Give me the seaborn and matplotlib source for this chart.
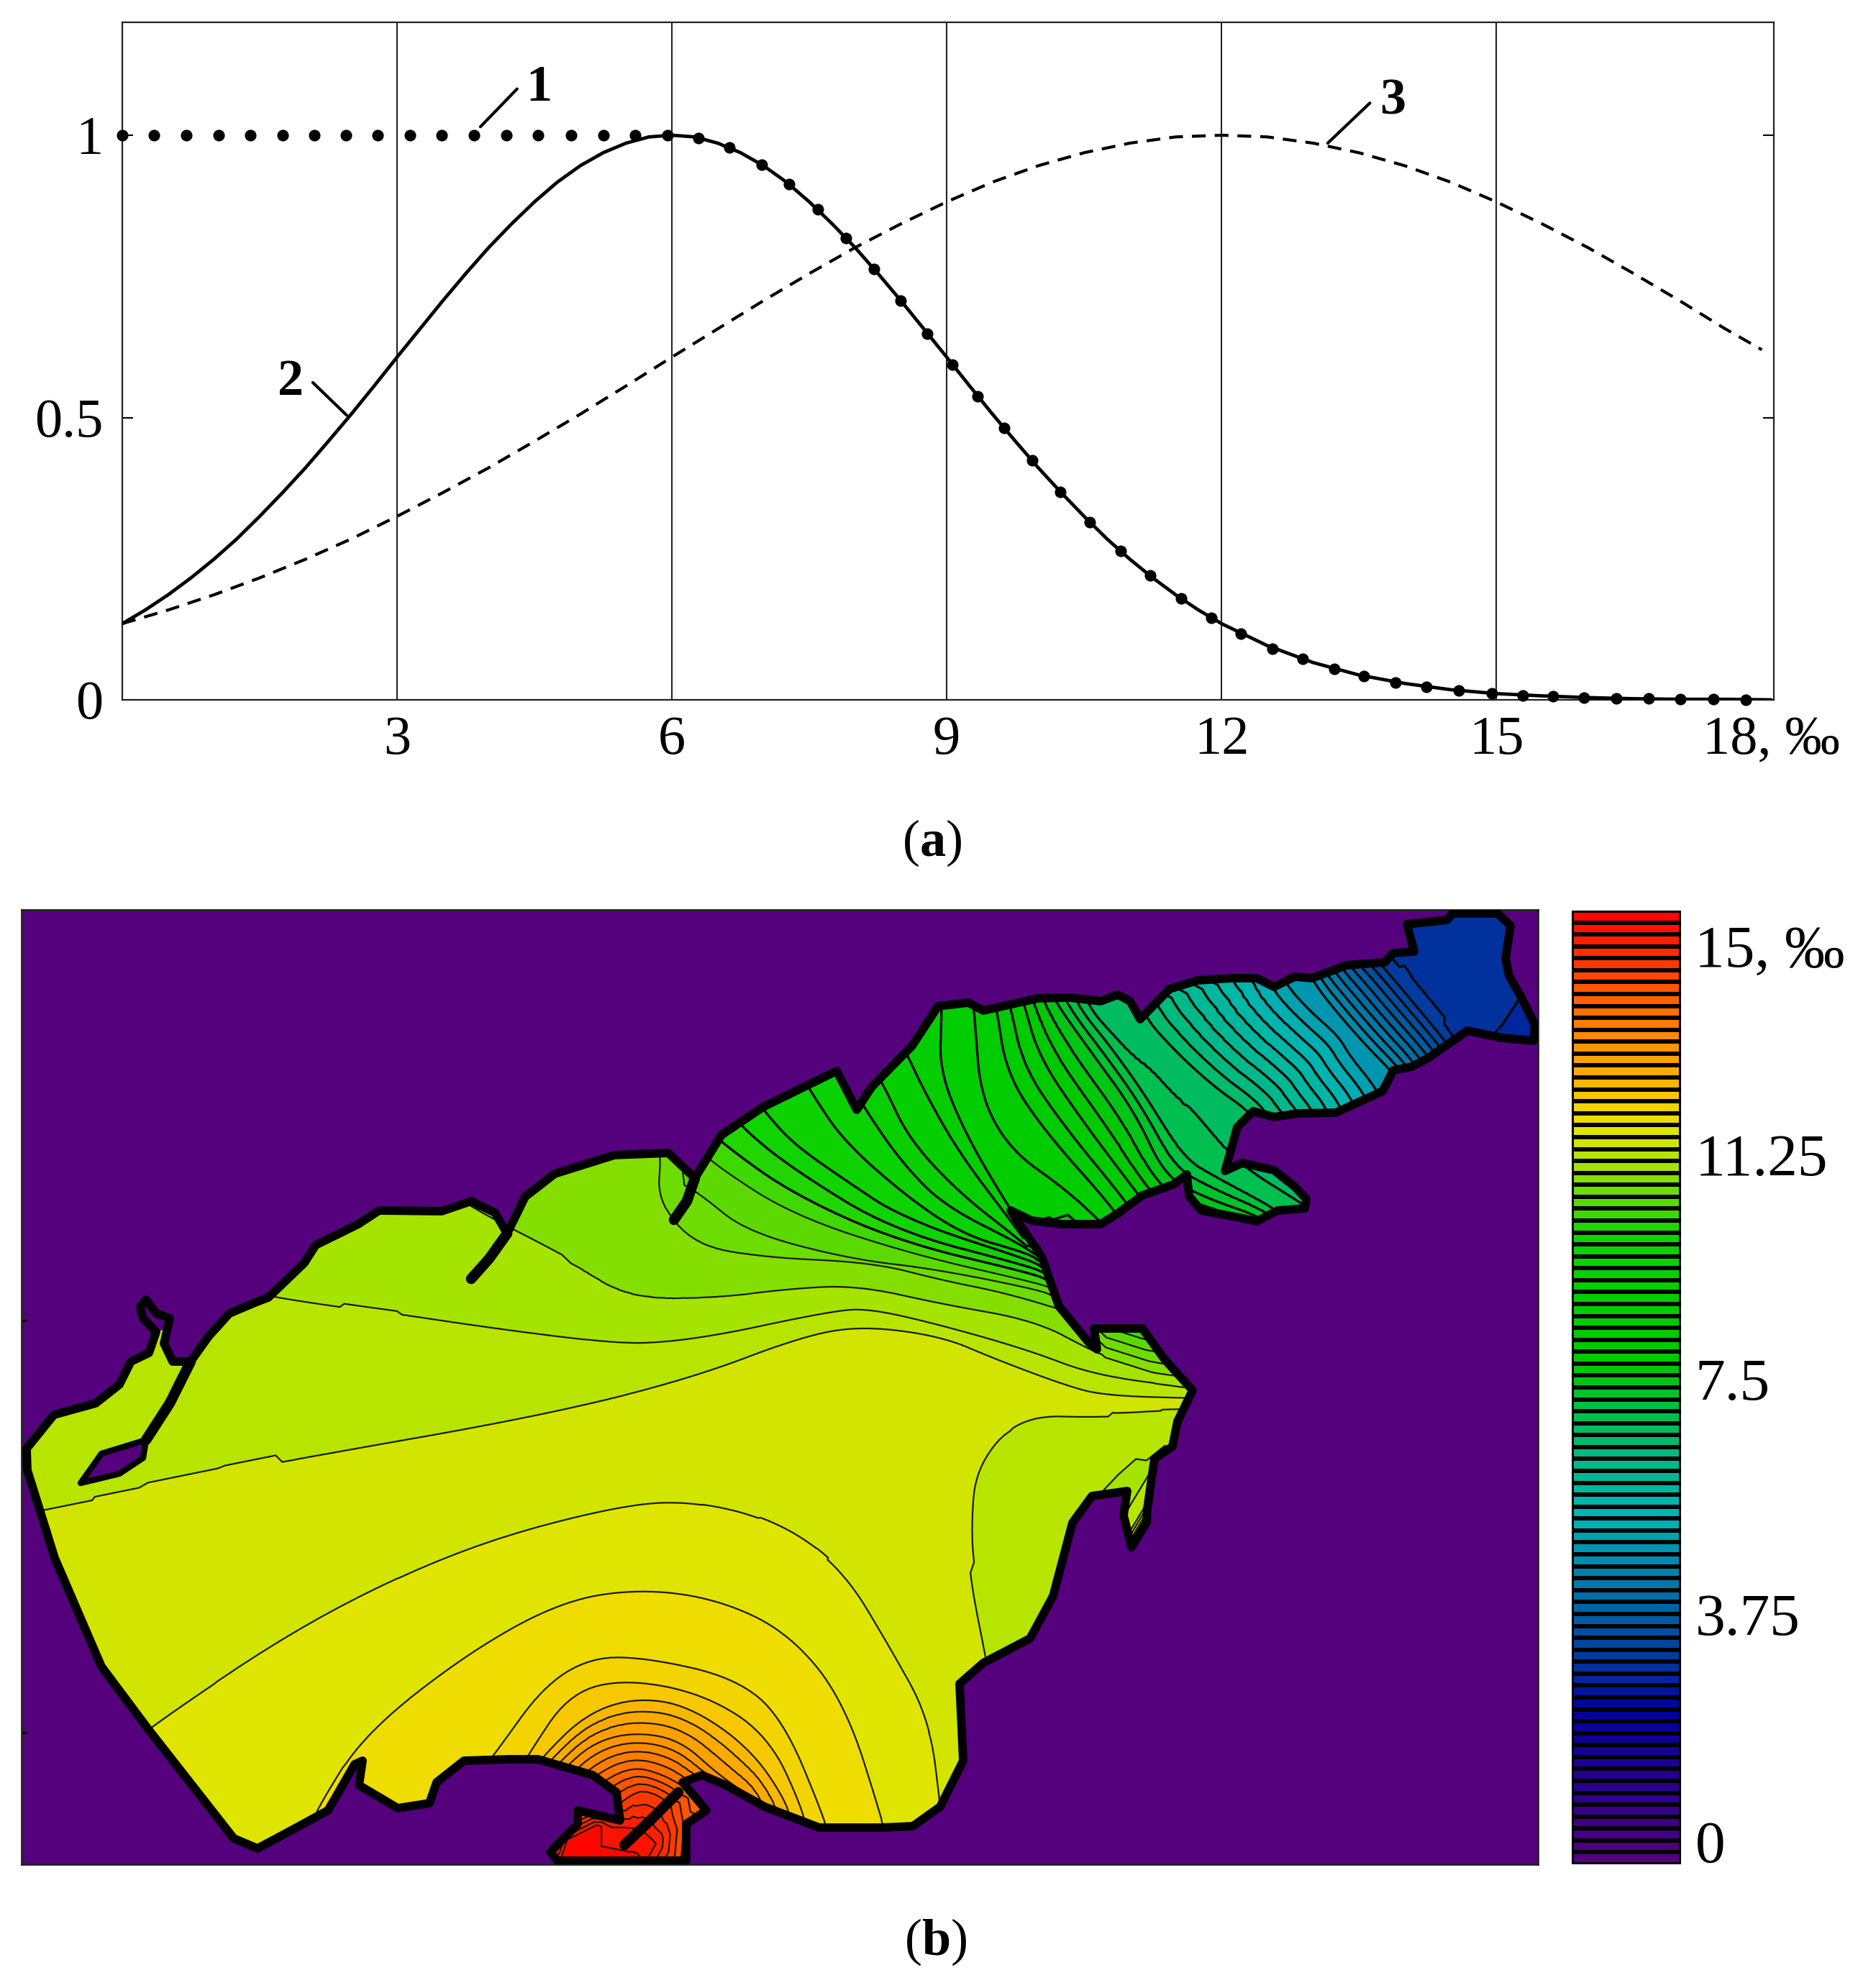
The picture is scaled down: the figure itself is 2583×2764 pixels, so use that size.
import numpy as np
import matplotlib
matplotlib.use('Agg')
import matplotlib.pyplot as plt
import matplotlib.tri as mtri
from matplotlib.colors import LinearSegmentedColormap
from matplotlib.patches import Polygon
import seaborn as sns

W, H = 2583, 2764

# panel (a) curves
curve1_x = [0, .345, .695, 1.05, 1.40, 1.75, 2.10, 2.44, 2.79, 3.14, 3.49, 3.84, 4.19, 4.54, 4.90, 5.25, 5.60, 5.95,
            6.29, 6.63, 6.98, 7.28, 7.59, 7.90, 8.21, 8.50, 8.79, 9.06, 9.34, 9.63, 9.93, 10.24, 10.56, 10.90,
            11.22, 11.56, 11.89, 12.21, 12.56, 12.89, 13.23, 13.55, 13.90, 14.24, 14.59, 14.95, 15.29, 15.62,
            15.96, 16.31, 16.66, 17.01, 17.37, 17.72]
curve1_y = [1] * 18 + [.995, .978, .948, .913, .869, .818, .763, .707, .649, .594, .538, .481, .424, .368, .315, .264,
                       .220, .179, .145, .117, .091, .072, .055, .042, .031, .023, .017, .012, .008, .006,
                       .004, .003, .002, .001, .001, 0]
curve2_x = [0, .25, .5, .75, 1, 1.25, 1.5, 1.75, 2, 2.25, 2.5, 2.75, 3, 3.25, 3.5, 3.75, 4, 4.25, 4.5, 4.75, 5, 5.25,
            5.5, 5.75, 6, 6.25, 6.5, 6.75, 7, 7.25, 7.5, 7.75, 8, 8.25, 8.5, 8.75, 9, 9.25, 9.5, 9.75, 10, 10.25,
            10.5, 10.75, 11, 11.25, 11.5, 11.75, 12, 12.5, 13, 13.5, 14, 14.5, 15, 15.5, 16, 16.5, 17, 17.5, 18]
curve2_y = [.135, .159, .186, .216, .249, .285, .325, .367, .411, .458, .506, .556, .607, .657, .707, .755, .801, .843,
            .882, .917, .946, .969, .986, .997, 1, .997, .986, .969, .946, .917, .882, .843, .801, .755, .707, .657,
            .607, .556, .506, .458, .411, .367, .325, .285, .249, .216, .186, .159, .135, .096, .066, .044, .029,
            .018, .011, .007, .004, .002, .001, .001, 0]
curve3_x = [0, .5, 1, 1.5, 2, 2.5, 3, 3.5, 4, 4.5, 5, 5.5, 6, 6.5, 7, 7.5, 8, 8.5, 9, 9.5, 10, 10.5, 11, 11.5, 12,
            12.5, 13, 13.5, 14, 14.5, 15, 15.5, 16, 16.5, 17, 17.5, 17.9]
curve3_y = [.135, .159, .186, .216, .249, .285, .325, .367, .411, .458, .506, .556, .607, .657, .707, .755, .801, .843,
            .882, .917, .946, .969, .986, .997, 1, .997, .986, .969, .946, .917, .882, .843, .801, .755, .707, .657,
            .62]
grid_x = [3, 6, 9, 12, 15]
x_ticks = [3, 6, 9, 12, 15, 18]
x_labels = ['3', '6', '9', '12', '15', '18, ‰']
y_ticks = [0, .5, 1]
y_labels = ['0', '0.5', '1']

# panel (b) coast, in map units
coast = [(37, 2014), (75, 1967), (133, 1951), (166, 1925), (182, 1893), (207, 1881), (217, 1852), (199, 1833),
         (195, 1817), (203, 1807), (217, 1826), (236, 1833), (228, 1868), (240, 1893), (265, 1893), (290, 1858),
         (319, 1826), (357, 1810), (373, 1804), (423, 1756), (439, 1731), (498, 1702), (527, 1683), (614, 1684),
         (655, 1670), (688, 1686), (705, 1715), (730, 1664), (771, 1632), (854, 1606), (929, 1603), (966, 1638),
         (1003, 1578), (1061, 1539), (1163, 1489), (1191, 1543), (1212, 1511), (1268, 1454), (1304, 1399),
         (1346, 1394), (1367, 1405), (1443, 1388), (1487, 1387), (1530, 1392), (1554, 1383), (1571, 1392),
         (1585, 1417), (1626, 1375), (1665, 1363), (1713, 1360), (1747, 1360), (1771, 1372), (1800, 1358),
         (1824, 1360), (1872, 1342), (1925, 1338), (1937, 1325), (1966, 1323), (1956, 1285),
         (2012, 1279), (2019, 1270), (2082, 1270), (2100, 1287), (2093, 1333), (2098, 1357), (2113, 1383),
         (2134, 1425), (2132, 1447), (2088, 1443), (2040, 1433), (1987, 1470), (1963, 1483), (1937, 1488),
         (1922, 1517), (1857, 1547), (1804, 1548), (1771, 1553), (1742, 1545), (1720, 1567), (1713, 1593),
         (1703, 1628), (1727, 1617), (1771, 1627), (1800, 1650), (1816, 1667), (1814, 1680), (1776, 1683),
         (1747, 1698), (1718, 1692), (1670, 1683), (1653, 1663), (1650, 1633), (1631, 1647), (1588, 1662),
         (1554, 1687), (1530, 1702), (1477, 1702), (1434, 1697), (1405, 1683), (1414, 1697), (1448, 1747),
         (1472, 1816), (1514, 1867), (1525, 1876), (1521, 1847), (1588, 1847), (1619, 1890),
         (1658, 1933), (1637, 1976), (1630, 2011), (1605, 2028), (1595, 2097), (1594, 2117), (1573, 2151),
         (1562, 2107), (1567, 2073), (1518, 2080), (1491, 2117), (1464, 2219), (1432, 2278), (1367, 2312),
         (1334, 2341), (1339, 2448), (1307, 2512), (1269, 2539), (1226, 2541), (1139, 2541), (1063, 2512),
         (1009, 2482), (976, 2468), (949, 2478), (982, 2517), (954, 2536), (954, 2587), (775, 2587), (765, 2575),
         (803, 2536), (803, 2517), (862, 2531), (857, 2492), (824, 2468), (748, 2446), (705, 2446), (645, 2448),
         (607, 2478), (597, 2507), (553, 2514), (499, 2482), (504, 2448), (493, 2453), (456, 2517), (412, 2541),
         (358, 2570), (325, 2556), (206, 2404), (141, 2317), (76, 2166), (38, 2044)]
lagoon = [(203, 2002), (141, 2021), (112, 2062), (166, 2049), (199, 2027)]
spits = [[(265, 1893), (236, 1951), (203, 2002)], [(705, 1715), (680, 1750), (655, 1778)],
         [(966, 1638), (955, 1670), (937, 1696)], [(943, 2492), (905, 2530), (868, 2565)]]

# traced isohalines: salinity value and its path
iso_values = [3.01, 3.2, 4.89, 5.05, 6.76, 6.93, 6.95, 7.51, 8.07, 8.45, 8.64, 8.82, 9.01, 9.2, 9.39, 9.57, 9.76,
              9.95, 10.13, 10.32, 10.51, 10.7, 10.89, 11.07, 11.26, 11.26, 11.44, 11.63, 11.82, 12.01, 12.19,
              12.76, 13.51, 14.07, 14.62]
iso_lines = [
    [(2060, 1460), (2069, 1437), (2104, 1385), (2115, 1360)],
    [(1905, 1310), (1921, 1328), (1935, 1342), (2016, 1440), (2030, 1460)],
    [(1815, 1340), (1826, 1368), (1862, 1413), (1901, 1457), (1934, 1490), (1950, 1515)],
    [(1780, 1345), (1790, 1370), (1824, 1407), (1862, 1440), (1877, 1467), (1910, 1507), (1925, 1535)],
    [(1585, 1400), (1597, 1423), (1641, 1470), (1689, 1513), (1732, 1543), (1750, 1565)],
    [(1510, 1385), (1520, 1407), (1540, 1430), (1578, 1467), (1607, 1480), (1646, 1517), (1670, 1527), (1708, 1573),
     (1735, 1615), (1825, 1670)],
    [(1500, 1370), (1514, 1402), (1549, 1442), (1591, 1500), (1655, 1597), (1711, 1632), (1802, 1689), (1815, 1705)],
    [(1455, 1365), (1465, 1391), (1514, 1460), (1577, 1546), (1619, 1637), (1675, 1666), (1760, 1695), (1770, 1715)],
    [(1415, 1370), (1423, 1396), (1444, 1471), (1507, 1563), (1577, 1655), (1600, 1685), (1690, 1705)],
    [(1378, 1375), (1384, 1402), (1398, 1494), (1451, 1574), (1549, 1683), (1565, 1715)],
    [(1350, 1390), (1353, 1425), (1360, 1528), (1402, 1603), (1479, 1655), (1535, 1706), (1550, 1725)],
    [(1307, 1385), (1307, 1414), (1304, 1488), (1339, 1574), (1402, 1683), (1420, 1710)],
    [(1245, 1445), (1261, 1471), (1283, 1517), (1332, 1603), (1405, 1698), (1425, 1725)],
    [(1212, 1490), (1226, 1511), (1261, 1586), (1332, 1660), (1409, 1718), (1430, 1735)],
    [(1190, 1525), (1205, 1551), (1254, 1620), (1311, 1678), (1416, 1729), (1440, 1745)],
    [(1115, 1500), (1128, 1523), (1170, 1586), (1254, 1660), (1339, 1718), (1423, 1741), (1445, 1752)],
    [(1045, 1525), (1061, 1549), (1100, 1592), (1170, 1640), (1254, 1695), (1430, 1752), (1450, 1762)],
    [(1015, 1545), (1028, 1568), (1100, 1626), (1240, 1712), (1434, 1762), (1455, 1772)],
    [(985, 1570), (1003, 1590), (1100, 1660), (1250, 1727), (1440, 1772), (1460, 1782)],
    [(975, 1600), (991, 1619), (1100, 1690), (1270, 1745), (1445, 1785), (1465, 1793)],
    [(950, 1650), (974, 1664), (1036, 1715), (1180, 1752), (1300, 1765), (1450, 1795), (1468, 1805)],
    [(916, 1585), (916, 1609), (912, 1670), (962, 1734), (1061, 1750), (1212, 1755), (1310, 1781), (1395, 1798),
     (1485, 1825)],
    [(610, 1665), (638, 1689), (788, 1766), (871, 1814), (995, 1810), (1100, 1795), (1191, 1790), (1310, 1816),
     (1437, 1838), (1514, 1879), (1540, 1890)],
    [(350, 1798), (373, 1810), (829, 1871), (954, 1868), (1161, 1823), (1212, 1821), (1310, 1844), (1430, 1879),
     (1521, 1913), (1665, 1932)],
    [(20, 2120), (58, 2113), (415, 2040), (746, 1976), (962, 1919), (1119, 1858), (1202, 1845), (1310, 1859),
     (1381, 1890), (1479, 1927), (1535, 1942), (1675, 1945)],
    [(1675, 1958), (1633, 1956), (1535, 1962), (1409, 1959), (1346, 2034), (1339, 2130), (1345, 2200), (1367, 2310),
     (1375, 2360)],
    [(190, 2425), (211, 2404), (434, 2253), (651, 2151), (868, 2093), (976, 2090), (1085, 2122), (1171, 2185),
     (1236, 2292), (1291, 2390), (1307, 2517), (1310, 2560)],
    [(440, 2535), (450, 2512), (510, 2414), (651, 2302), (781, 2229), (889, 2212), (998, 2227), (1095, 2273),
     (1171, 2365), (1226, 2536), (1230, 2560)],
    [(670, 2470), (694, 2439), (759, 2346), (824, 2307), (900, 2309), (1020, 2336), (1085, 2390), (1144, 2531),
     (1150, 2560)],
    [(720, 2470), (737, 2439), (792, 2356), (868, 2336), (976, 2356), (1068, 2414), (1117, 2521), (1120, 2555)],
    [(735, 2470), (754, 2443), (813, 2385), (879, 2361), (954, 2370), (1041, 2429), (1095, 2507), (1100, 2545)],
    [(760, 2490), (781, 2463), (824, 2424), (879, 2409), (944, 2419), (998, 2468), (1041, 2497), (1050, 2530)],
    [(810, 2505), (830, 2482), (879, 2456), (922, 2468), (954, 2487), (1000, 2510)],
    [(850, 2520), (868, 2502), (895, 2487), (933, 2507), (935, 2530)],
    [(850, 2540), (890, 2540), (915, 2565)],
]
# flat areas between the traced lines
station_x = [2000, 2090, 2050, 1950, 2100, 2140, 2135, 2100, 1590, 1528, 1623, 1450, 1400, 1500, 1600, 900, 1200, 600,
             1300, 1580, 100, 40, 150, 1345, 1320, 40, 80, 200, 300, 10, 330, 280, 360, 1270, 500, 560, 650, 1190,
             770, 850, 500, 420, 790, 830, 830, 780, 950, 955, 880]
station_y = [1260, 1260, 1350, 1275, 1340, 1430, 1460, 1470, 2050, 2074, 2005, 2100, 2250, 2050, 2000, 2000, 1950, 2070,
             2000, 1950, 2300, 2150, 2470, 2450, 2560, 1990, 1940, 1870, 1830, 2110, 2480, 2560, 2590, 2560, 2500, 2530,
             2480, 2560, 1620, 1590, 1680, 1740, 2560, 2540, 2580, 2590, 2590, 2535, 2590]
station_s = [3.1, 3.1, 3.1, 3.1, 3.1, 2.95, 2.95, 2.95, 11.0, 11.07, 11.07, 11.16, 11.16, 11.16, 11.16, 11.33, 11.33,
             11.33, 11.33, 11.33, 11.33, 11.33, 11.33, 11.33, 11.33, 11.16, 11.16, 11.16, 11.16, 11.16, 11.53, 11.53,
             11.53, 11.53, 11.7, 11.7, 11.7, 11.7, 10.78, 10.78, 10.97, 10.97, 14.9, 14.9, 14.9, 14.9, 13.8, 13.8, 14.9]

# colour bar
level_edges = np.linspace(0, 15, 81)
cmap_steps = [0, 7, 13, 16, 21, 26.5, 29, 33, 36.5, 38, 40, 42, 46, 53, 55, 57.5, 58.5, 59.5, 60.5, 61.5, 62.5, 64, 66,
              69, 72, 75, 78, 80]
cmap_colors = ['#55007d', '#25008f', '#00009a', '#002c9c', '#0060a5', '#0095b0', '#00b4b4', '#00b890', '#00bb60',
               '#00c048', '#00c420', '#00c800', '#00cc00', '#10d400', '#50d800', '#80de00', '#a4e400', '#b8e500',
               '#d0e500', '#e0e500', '#eedd00', '#f5cf00', '#fdb000', '#ff9000', '#ff6a00', '#ff4000', '#ff1a00',
               '#ff0000']
bar_tick_rows = [2.96, 20.45, 39.3, 59, 78.1]
bar_labels = ['15, ‰', '11.25', '7.5', '3.75', '0']

sns.set_theme(style='white')
plt.rcParams['font.family'] = ['Liberation Serif', 'DejaVu Serif']
plt.rcParams['text.color'] = 'black'
plt.rcParams['mathtext.fontset'] = 'custom'
plt.rcParams['mathtext.bf'] = 'Liberation Serif:bold'
plt.rcParams['mathtext.rm'] = 'Liberation Serif'


def add_axes_px(fig, left, top, right, bottom):
    return fig.add_axes([left / W, 1 - bottom / H, (right - left) / W, (bottom - top) / H])


def smooth_path(pts):
    # corner cutting, then even spacing so the triangulation follows the line
    pts = np.array(pts, dtype=float)
    for _ in range(3):
        q = .75 * pts[:-1] + .25 * pts[1:]
        r = .25 * pts[:-1] + .75 * pts[1:]
        mid = np.empty((2 * len(q), 2))
        mid[0::2] = q
        mid[1::2] = r
        pts = np.vstack([pts[0], mid, pts[-1]])
    d = np.r_[0, np.cumsum(np.hypot(*np.diff(pts, axis=0).T))]
    t = np.arange(0, d[-1], 10.0)
    return np.column_stack([np.interp(t, d, pts[:, 0]), np.interp(t, d, pts[:, 1])])


fig = plt.figure(figsize=(W / 100, H / 100), dpi=100)

# (a) ---------------------------------------------------------------
ax = add_axes_px(fig, 170, 31, 2466, 973)
for gx in grid_x:
    ax.axvline(gx, color='#222222', lw=1.5, zorder=1)
sns.lineplot(x=curve3_x, y=curve3_y, color='black', lw=3, linestyle=(0, (4.6, 3)), errorbar=None, ax=ax, zorder=2)
sns.lineplot(x=curve2_x, y=curve2_y, color='black', lw=3.4, errorbar=None, ax=ax, zorder=3)
sns.scatterplot(x=curve1_x, y=curve1_y, color='black', s=135, linewidth=0, ax=ax, zorder=4, clip_on=False)
ax.set_xlim(0, 18.03)
ax.set_ylim(0, 1.2)
ax.set_xticks(x_ticks, x_labels, fontsize=55)
ax.set_yticks(y_ticks, y_labels, fontsize=55)
ax.tick_params(axis='x', length=0, pad=16, colors='black')
ax.tick_params(axis='y', direction='in', length=11, width=1.5, left=True, right=True, pad=19, colors='black')
for s in ax.spines.values():
    s.set_color('#222222')
    s.set_linewidth(1.6)

leader_x = [[3.91, 4.31], [2.08, 2.45], [13.16, 13.62]]
leader_y = [[1.015, 1.082], [.562, .504], [.986, 1.057]]
for lx, ly in zip(leader_x, leader_y):
    ax.plot(lx, ly, color='black', lw=3, zorder=5)
ax.text(4.55, 1.083, '1', fontsize=52, fontweight='bold', ha='center', va='center')
ax.text(1.84, .562, '2', fontsize=52, fontweight='bold', ha='center', va='center')
ax.text(13.87, 1.06, '3', fontsize=52, fontweight='bold', ha='center', va='center')

# (b) ---------------------------------------------------------------
cmap = LinearSegmentedColormap.from_list('salinity', [(k / 80, c) for k, c in zip(cmap_steps, cmap_colors)], N=512)

nx, ny, ns = list(station_x), list(station_y), list(station_s)
for val, line in zip(iso_values, iso_lines):
    p = smooth_path(line)
    nx.extend(p[:, 0])
    ny.extend(p[:, 1])
    ns.extend([val] * len(p))
nodes, idx = np.unique(np.column_stack([nx, ny]), axis=0, return_index=True)
tri = mtri.Triangulation(nodes[:, 0], nodes[:, 1])
field = np.array(ns)[idx]

ax_map = add_axes_px(fig, 30, 1265, 2138, 2592)
ax_map.set_facecolor('#55007d')
sea = Polygon(coast, closed=True, transform=ax_map.transData, facecolor='none', edgecolor='none')
ax_map.add_patch(sea)
fill = ax_map.tricontourf(tri, field, levels=level_edges, cmap=cmap, vmin=0, vmax=15)
# the fresh end of the sea is drawn with heavier lines than the open part
heavy = ax_map.tricontour(tri, field, levels=level_edges[level_edges < 10.2], colors='#050a00', linewidths=2.4)
light = ax_map.tricontour(tri, field, levels=level_edges[level_edges >= 10.2], colors='#1a1a00', linewidths=1.6)
fill.set_clip_path(sea)
heavy.set_clip_path(sea)
light.set_clip_path(sea)
ax_map.add_patch(Polygon(coast, closed=True, facecolor='none', edgecolor='black', lw=8.5, joinstyle='round', zorder=5))
ax_map.add_patch(Polygon(lagoon, closed=True, facecolor='#55007d', edgecolor='black', lw=6, joinstyle='round', zorder=5))
for sp in spits:
    sx, sy = zip(*sp)
    ax_map.plot(sx, sy, color='black', lw=10.5, solid_capstyle='round', zorder=6)
ax_map.set_xlim(30, 2138)
ax_map.set_ylim(2592, 1265)
ax_map.set_xticks([])
ax_map.set_yticks([1836, 2409], ['', ''])
ax_map.tick_params(axis='y', direction='in', length=6, width=2, left=True, color='black')
for s in ax_map.spines.values():
    s.set_color('#222222')
    s.set_linewidth(2)

cax = add_axes_px(fig, 2185, 1266, 2337, 2592)
mids = ((level_edges[:-1] + level_edges[1:]) / 2)[::-1].reshape(-1, 1)
sns.heatmap(mids, cmap=cmap, vmin=0, vmax=15, cbar=False, linewidths=3.2, linecolor='black', ax=cax,
            xticklabels=False, yticklabels=False)
cax.yaxis.tick_right()
cax.set_yticks(bar_tick_rows, bar_labels, fontsize=60, rotation=0)
cax.tick_params(axis='y', length=0, pad=14, colors='black')

fig.text(1296 / W, 1 - 1172 / H, r'($\mathbf{a}$)', fontsize=52, ha='center', va='center', color='black')
fig.text(1301 / W, 1 - 2700 / H, r'($\mathbf{b}$)', fontsize=52, ha='center', va='center', color='black')

fig.savefig('out.png', dpi=100, facecolor='white')
